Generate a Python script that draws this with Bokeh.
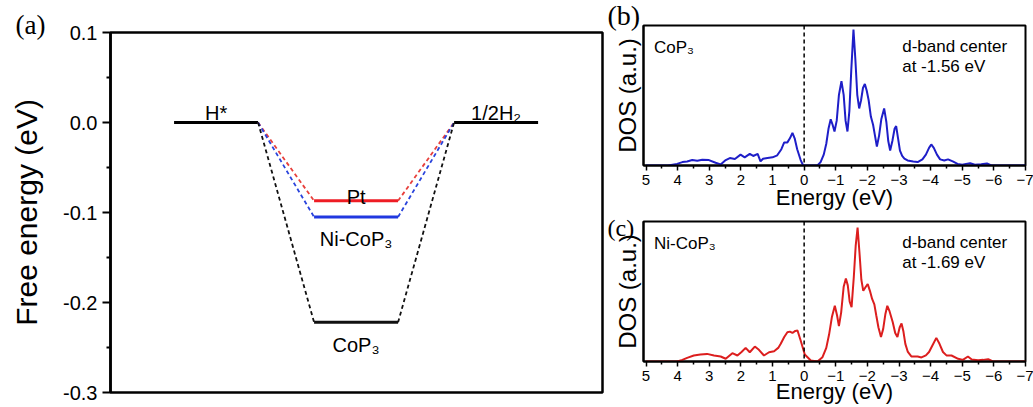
from bokeh.plotting import figure
from bokeh.models import Range1d, FixedTicker, PrintfTickFormatter, Label, Span, Title
from bokeh.layouts import row, column
from bokeh.embed import file_html
from bokeh.resources import INLINE

# ---------------- data: panel (a) free-energy diagram ----------------
steps = ["H*", "catalyst", "1/2H₂"]          # reaction coordinate (index 0,1,2)
catalysts = ["Pt", "Ni-CoP₃", "CoP₃"]
dG_H = [-0.087, -0.105, -0.222]               # eV, adsorbed H* state
start_G = 0.0                                  # H* reference
end_G = 0.0                                    # 1/2 H2
energy_ticks = [-0.3, -0.2, -0.1, 0.0, 0.1]
energy_minor = [-0.25, -0.15, -0.05, 0.05]

# ---------------- data: panels (b), (c) d-band DOS ----------------
cop3_dos = [
    (5.0, 0.0), (4.3, 0.0), (4.02, 0.012), (3.85, 0.025), (3.70, 0.03), (3.54, 0.04),
    (3.38, 0.035), (3.22, 0.042), (3.01, 0.04), (2.80, 0.02), (2.64, 0.008), (2.48, 0.04),
    (2.35, 0.055), (2.19, 0.048), (2.01, 0.08), (1.88, 0.06), (1.72, 0.085), (1.61, 0.07),
    (1.47, 0.085), (1.38, 0.03), (1.30, 0.05), (1.16, 0.055), (1.0, 0.06), (0.85, 0.075),
    (0.72, 0.12), (0.63, 0.17), (0.53, 0.17), (0.45, 0.2), (0.37, 0.24), (0.30, 0.2),
    (0.22, 0.12), (0.11, 0.04), (0.03, 0.0), (-0.42, 0.0), (-0.52, 0.025), (-0.62, 0.08),
    (-0.70, 0.16), (-0.77, 0.27), (-0.84, 0.34), (-0.90, 0.30), (-0.96, 0.25), (-1.03, 0.33),
    (-1.10, 0.52), (-1.18, 0.62), (-1.25, 0.52), (-1.31, 0.33), (-1.37, 0.25), (-1.43, 0.40),
    (-1.49, 0.70), (-1.56, 1.0), (-1.62, 0.78), (-1.68, 0.52), (-1.74, 0.42), (-1.80, 0.48),
    (-1.86, 0.57), (-1.92, 0.60), (-1.98, 0.55), (-2.04, 0.48), (-2.11, 0.36), (-2.18, 0.30),
    (-2.24, 0.22), (-2.30, 0.14), (-2.37, 0.22), (-2.44, 0.34), (-2.53, 0.42), (-2.60, 0.32),
    (-2.66, 0.18), (-2.72, 0.11), (-2.79, 0.18), (-2.86, 0.27), (-2.91, 0.29), (-2.97, 0.20),
    (-3.03, 0.11), (-3.10, 0.07), (-3.17, 0.05), (-3.27, 0.037), (-3.45, 0.03), (-3.59, 0.025),
    (-3.74, 0.045), (-3.85, 0.08), (-3.95, 0.13), (-4.02, 0.155), (-4.10, 0.13), (-4.20, 0.08),
    (-4.30, 0.045), (-4.43, 0.037), (-4.55, 0.045), (-4.70, 0.03), (-4.85, 0.012), (-5.00, 0.005),
    (-5.12, 0.012), (-5.25, 0.017), (-5.40, 0.006), (-5.60, 0.01), (-5.78, 0.015), (-5.92, 0.0),
    (-7.0, 0.0),
]
nicop3_dos = [
    (5.0, 0.0), (4.02, 0.0), (3.85, 0.012), (3.70, 0.027), (3.49, 0.044), (3.28, 0.051),
    (3.07, 0.056), (2.85, 0.044), (2.64, 0.037), (2.48, 0.02), (2.27, 0.061), (2.11, 0.044),
    (1.98, 0.07), (1.85, 0.10), (1.72, 0.068), (1.56, 0.11), (1.43, 0.086), (1.27, 0.044),
    (1.11, 0.068), (0.95, 0.076), (0.82, 0.1), (0.74, 0.13), (0.63, 0.18), (0.53, 0.215),
    (0.45, 0.22), (0.37, 0.21), (0.28, 0.225), (0.21, 0.228), (0.11, 0.154), (-0.02, 0.051),
    (-0.21, 0.007), (-0.42, 0.0), (-0.58, 0.032), (-0.70, 0.1), (-0.79, 0.2), (-0.88, 0.33),
    (-0.97, 0.41), (-1.04, 0.34), (-1.10, 0.26), (-1.17, 0.36), (-1.25, 0.55), (-1.32, 0.61),
    (-1.38, 0.56), (-1.44, 0.44), (-1.50, 0.40), (-1.57, 0.62), (-1.63, 0.85), (-1.69, 0.986),
    (-1.75, 0.80), (-1.81, 0.60), (-1.87, 0.52), (-1.95, 0.55), (-2.01, 0.57), (-2.08, 0.52),
    (-2.15, 0.46), (-2.22, 0.42), (-2.28, 0.34), (-2.35, 0.25), (-2.43, 0.18), (-2.50, 0.24),
    (-2.57, 0.35), (-2.63, 0.41), (-2.70, 0.37), (-2.80, 0.29), (-2.88, 0.21), (-2.95, 0.18),
    (-3.02, 0.25), (-3.08, 0.28), (-3.14, 0.22), (-3.20, 0.13), (-3.28, 0.07), (-3.39, 0.037),
    (-3.59, 0.037), (-3.71, 0.03), (-3.85, 0.045), (-3.95, 0.07), (-4.06, 0.12), (-4.18, 0.174),
    (-4.28, 0.13), (-4.39, 0.07), (-4.50, 0.045), (-4.66, 0.044), (-4.87, 0.02), (-5.02, 0.012),
    (-5.18, 0.037), (-5.30, 0.015), (-5.50, 0.01), (-5.66, 0.012), (-5.82, 0.017), (-5.97, 0.0),
    (-7.0, 0.0),
]
dos_ticks = [5, 4, 3, 2, 1, 0, -1, -2, -3, -4, -5, -6, -7]
dos_minor = [4.5, 3.5, 2.5, 1.5, 0.5, -0.5, -1.5, -2.5, -3.5, -4.5, -5.5, -6.5]
d_band_centers = ["-1.56", "-1.69"]

# ---------------- styles ----------------
SANS = "Liberation Sans"
SERIF = "Liberation Serif"
level_colors = ["#ee1c24", "#2038e0", "#111111"]
dash_colors = ["#e8403c", "#2a44dc", "#111111"]
HALF = 0.3  # half width of an energy level on the reaction axis


def base_fig(**kw):
    p = figure(output_backend="svg", toolbar_location=None, **kw)
    p.xgrid.grid_line_color = None
    p.ygrid.grid_line_color = None
    p.outline_line_color = "black"
    p.outline_line_alpha = 1.0
    p.background_fill_color = "white"
    p.border_fill_color = "white"
    return p


def panel_letter(p, text, size, offset, standoff):
    p.add_layout(Title(text=text, align="left", offset=offset, standoff=standoff,
                       text_font=SERIF, text_font_size=size, text_font_style="normal",
                       text_color="black", vertical_align="bottom"), "above")


def txt(p, x, y, text, size, yoff=0, align="center", font=SANS, baseline="alphabetic"):
    p.add_layout(Label(x=x, y=y, text=text, text_font=font, text_font_size=size,
                       text_align=align, text_baseline=baseline, y_offset=yoff, text_color="black"))


# ================= panel (a) =================
pa = base_fig(width=604, height=407,
              x_range=Range1d(-0.754, 2.76), y_range=Range1d(-0.3, 0.1),
              min_border_left=110, min_border_right=2, min_border_top=32, min_border_bottom=15)
pa.outline_line_width = 2.5
pa.xaxis.visible = False
ya = pa.yaxis[0]
ya.ticker = FixedTicker(ticks=energy_ticks, minor_ticks=energy_minor)
ya.formatter = PrintfTickFormatter(format="%.1f")
ya.axis_label = "Free energy (eV)"
ya.axis_label_text_font = SANS
ya.axis_label_text_font_style = "normal"
ya.axis_label_text_font_size = "30px"
ya.axis_label_text_color = "black"
ya.axis_label_standoff = 17
ya.major_label_text_font = SANS
ya.major_label_text_font_size = "20px"
ya.major_label_text_color = "black"
ya.major_label_standoff = 5
ya.major_tick_out = 8
ya.major_tick_in = 0
ya.minor_tick_out = 4
ya.minor_tick_in = 0
ya.major_tick_line_width = 2
ya.minor_tick_line_width = 2
ya.axis_line_width = 2.5
panel_letter(pa, "(a)", "27px", -95, -14)

# flat levels: H* and 1/2H2 (shared) + catalyst intermediate levels
pa.segment(x0=[0 - HALF, 2 - HALF], y0=[start_G, end_G], x1=[0 + HALF, 2 + HALF], y1=[start_G, end_G],
           line_color="black", line_width=3)
mid = 1
n = len(dG_H)
pa.segment(x0=[mid - HALF] * n, y0=dG_H, x1=[mid + HALF] * n, y1=dG_H,
           line_color=level_colors, line_width=3)
# dashed connectors
pa.segment(x0=[0 + HALF] * n, y0=[start_G] * n, x1=[mid - HALF] * n, y1=dG_H,
           line_color=dash_colors, line_width=1.8, line_dash="4 3")
pa.segment(x0=[mid + HALF] * n, y0=dG_H, x1=[2 - HALF] * n, y1=[end_G] * n,
           line_color=dash_colors, line_width=1.8, line_dash="4 3")

txt(pa, 0, start_G, steps[0], "20px", yoff=10)
txt(pa, 2, end_G, steps[2], "20px", yoff=10)
txt(pa, mid, dG_H[0], catalysts[0], "20px", yoff=4)
txt(pa, mid, dG_H[1], catalysts[1], "20px", yoff=-22)
txt(pa, mid, dG_H[2], catalysts[2], "20px", yoff=-23)


# ================= panels (b), (c) =================
def dos_fig(data, color, name, center, letter, letter_size, letter_standoff,
            height, top, bottom, label_standoff):
    p = base_fig(width=429, height=height,
                 x_range=Range1d(5.08, -7.0), y_range=Range1d(0, 1.03),
                 min_border_left=39, min_border_right=8, min_border_top=top, min_border_bottom=bottom)
    p.outline_line_width = 2
    e = [d[0] for d in data]
    v = [d[1] for d in data]
    p.line(e, v, line_color=color, line_width=2)
    p.add_layout(Span(location=0, dimension="height", line_color="black",
                      line_dash="4 3", line_width=1.5))
    xa = p.xaxis[0]
    xa.ticker = FixedTicker(ticks=dos_ticks, minor_ticks=dos_minor)
    xa.major_label_text_font = SANS
    xa.major_label_text_font_size = "15px"
    xa.major_label_text_color = "black"
    xa.major_label_standoff = 4
    xa.major_tick_out = 5
    xa.major_tick_in = 0
    xa.minor_tick_out = 3
    xa.minor_tick_in = 0
    xa.major_tick_line_width = 1.5
    xa.minor_tick_line_width = 1.5
    xa.axis_line_width = 2
    xa.axis_label = "Energy (eV)"
    xa.axis_label_text_font = SANS
    xa.axis_label_text_font_style = "normal"
    xa.axis_label_text_font_size = "22px"
    xa.axis_label_text_color = "black"
    xa.axis_label_standoff = label_standoff
    yax = p.yaxis[0]
    yax.ticker = FixedTicker(ticks=[])
    yax.axis_label = "DOS (a.u.)"
    yax.axis_label_text_font = SANS
    yax.axis_label_text_font_style = "normal"
    yax.axis_label_text_font_size = "24px"
    yax.axis_label_text_color = "black"
    yax.axis_label_standoff = 3
    yax.axis_line_width = 2
    txt(p, 4.75, 0.87, name, "17px", align="left")
    txt(p, -3.10, 0.875, "d-band center", "17px", align="left")
    txt(p, -3.10, 0.725, "at " + center + " eV", "17px", align="left")
    panel_letter(p, letter, letter_size, -36, letter_standoff)
    return p


pb = dos_fig(cop3_dos, "#1e1ec8", "CoP₃", d_band_centers[0], "(b)", "28px", -10,
             213, 25, 48, -3)
pc = dos_fig(nicop3_dos, "#dc1e1e", "Ni-CoP₃", d_band_centers[1], "(c)", "24px", -38,
             194, 8, 46, -5)

layout = row(pa, column(pb, pc))
open("out.html", "w").write(file_html(layout, INLINE))
